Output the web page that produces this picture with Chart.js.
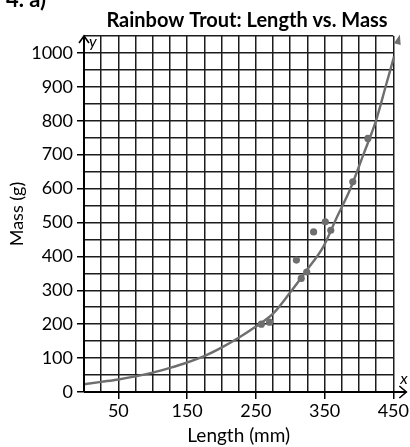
<!DOCTYPE html>
<html>
<head>
<meta charset="utf-8">
<script src="https://cdn.jsdelivr.net/npm/chart.js@4"></script>
<style>
  html, body { margin: 0; padding: 0; background: #fff; }
</style>
</head>
<body>
<canvas id="chart" width="410" height="447"></canvas>
<script>
// measured fish (length in mm, mass in g)
const fishLength = [258, 270, 309, 316, 324, 334, 351, 359, 391, 413];
const fishMass   = [200, 206, 389, 335, 354, 472, 502, 477, 620, 748];

// hand-drawn curve of best fit
const curveLength = [0, 25, 50, 75, 100, 125, 150, 175, 200, 225, 250, 275, 299, 324, 348, 367, 387, 406, 425, 440, 451, 458];
const curveMass   = [23, 30, 37, 46, 57, 71, 87, 106, 131, 160, 193, 231, 291, 359, 428, 512, 597, 698, 802, 910, 989, 1043];

const xTickLabels = [50, 150, 250, 350, 450];
const yTickLabels = [0, 100, 200, 300, 400, 500, 600, 700, 800, 900, 1000];

const FONT = 'Lato, "Noto Sans", sans-serif';
const GRID = '#1c1c1c';
const CURVE = '#6e6e6e';

const fishPoints = fishLength.map((x, i) => ({ x: x, y: fishMass[i] }));
const curvePoints = curveLength.map((x, i) => ({ x: x, y: curveMass[i] }));

const extras = {
    id: 'extras',
    afterDraw(chart) {
        const ctx = chart.ctx;
        const xs = chart.scales.x, ys = chart.scales.y;
        const x0 = xs.getPixelForValue(0), y0 = ys.getPixelForValue(0);
        const xEnd = chart.chartArea.right + 13, yTop = chart.chartArea.top;

        ctx.save();
        ctx.strokeStyle = '#000';
        ctx.lineWidth = 2;

        // axes
        ctx.beginPath();
        ctx.moveTo(x0, y0);
        ctx.lineTo(xEnd, y0);
        ctx.moveTo(x0, y0);
        ctx.lineTo(x0, yTop);
        ctx.stroke();

        // axis arrows
        ctx.lineWidth = 1.6;
        ctx.beginPath();
        ctx.moveTo(xEnd - 7, y0 - 6);
        ctx.lineTo(xEnd, y0);
        ctx.lineTo(xEnd - 7, y0 + 6);
        ctx.moveTo(x0 - 5, yTop + 7);
        ctx.lineTo(x0, yTop);
        ctx.lineTo(x0 + 5, yTop + 7);
        ctx.stroke();

        ctx.fillStyle = '#000';
        ctx.font = 'italic 16px ' + FONT;
        ctx.textAlign = 'left';
        ctx.textBaseline = 'alphabetic';
        ctx.fillText('x', xEnd - 6, y0 - 8);
        ctx.fillText('y', x0 + 5, yTop + 11);

        // arrowhead at the end of the curve
        const pts = chart.getDatasetMeta(1).data;
        const a = pts[pts.length - 2], b = pts[pts.length - 1];
        const ang = Math.atan2(b.y - a.y, b.x - a.x);
        ctx.fillStyle = CURVE;
        ctx.translate(b.x, b.y);
        ctx.rotate(ang);
        ctx.beginPath();
        ctx.moveTo(4, 0);
        ctx.lineTo(-6, -3.5);
        ctx.lineTo(-6, 3.5);
        ctx.closePath();
        ctx.fill();
        ctx.setTransform(1, 0, 0, 1, 0, 0);

        // headings
        ctx.fillStyle = '#000';
        ctx.font = 'bold 20px ' + FONT;
        ctx.textAlign = 'center';
        ctx.fillText('Rainbow Trout: Length vs. Mass', 247, 27);
        ctx.font = 'bold 22px ' + FONT;
        ctx.textAlign = 'left';
        ctx.fillText('4. a)', 6, 7);
        ctx.restore();
    }
};

new Chart(document.getElementById('chart'), {
    data: {
        datasets: [{
            type: 'scatter',
            label: 'Fish',
            data: fishPoints,
            backgroundColor: CURVE,
            borderWidth: 0,
            pointRadius: 3.6,
            order: 0
        }, {
            type: 'line',
            label: 'Curve of best fit',
            data: curvePoints,
            borderColor: CURVE,
            borderWidth: 2.4,
            pointRadius: 0,
            cubicInterpolationMode: 'monotone',
            fill: false,
            clip: false,
            order: 1
        }]
    },
    options: {
        responsive: false,
        animation: false,
        layout: {
            padding: { top: 36, right: 16, left: 0, bottom: 0 }
        },
        plugins: {
            legend: { display: false },
            tooltip: { enabled: false },
            title: { display: false }
        },
        scales: {
            x: {
                type: 'linear',
                min: 0,
                max: 450,
                afterFit: (s) => { s.height = 55; },
                ticks: {
                    stepSize: 25,
                    autoSkip: false,
                    maxRotation: 0,
                    padding: 1,
                    color: '#000',
                    font: { family: FONT, size: 18 },
                    callback: (v) => xTickLabels.includes(v) ? String(v) : ''
                },
                grid: {
                    color: GRID,
                    lineWidth: 1.5,
                    tickLength: 7,
                    tickColor: (c) => c.tick && xTickLabels.includes(c.tick.value) ? '#000' : 'rgba(0,0,0,0)'
                },
                border: { display: false },
                title: {
                    display: true,
                    text: 'Length (mm)',
                    color: '#000',
                    font: { family: FONT, size: 19 },
                    padding: { top: 0, bottom: 0 }
                }
            },
            y: {
                type: 'linear',
                min: 0,
                max: 1050,
                afterFit: (s) => { s.width = 84; },
                ticks: {
                    stepSize: 50,
                    autoSkip: false,
                    padding: 4,
                    color: '#000',
                    font: { family: FONT, size: 18 },
                    callback: (v) => yTickLabels.includes(v) ? String(v) : ''
                },
                grid: {
                    color: GRID,
                    lineWidth: 1.5,
                    tickLength: 7,
                    tickColor: (c) => c.tick && yTickLabels.includes(c.tick.value) ? '#000' : 'rgba(0,0,0,0)'
                },
                border: { display: false },
                title: {
                    display: true,
                    text: 'Mass (g)',
                    color: '#000',
                    font: { family: FONT, size: 18 },
                    padding: { top: 6, bottom: 0 }
                }
            }
        }
    },
    plugins: [extras]
});
</script>
</body>
</html>
